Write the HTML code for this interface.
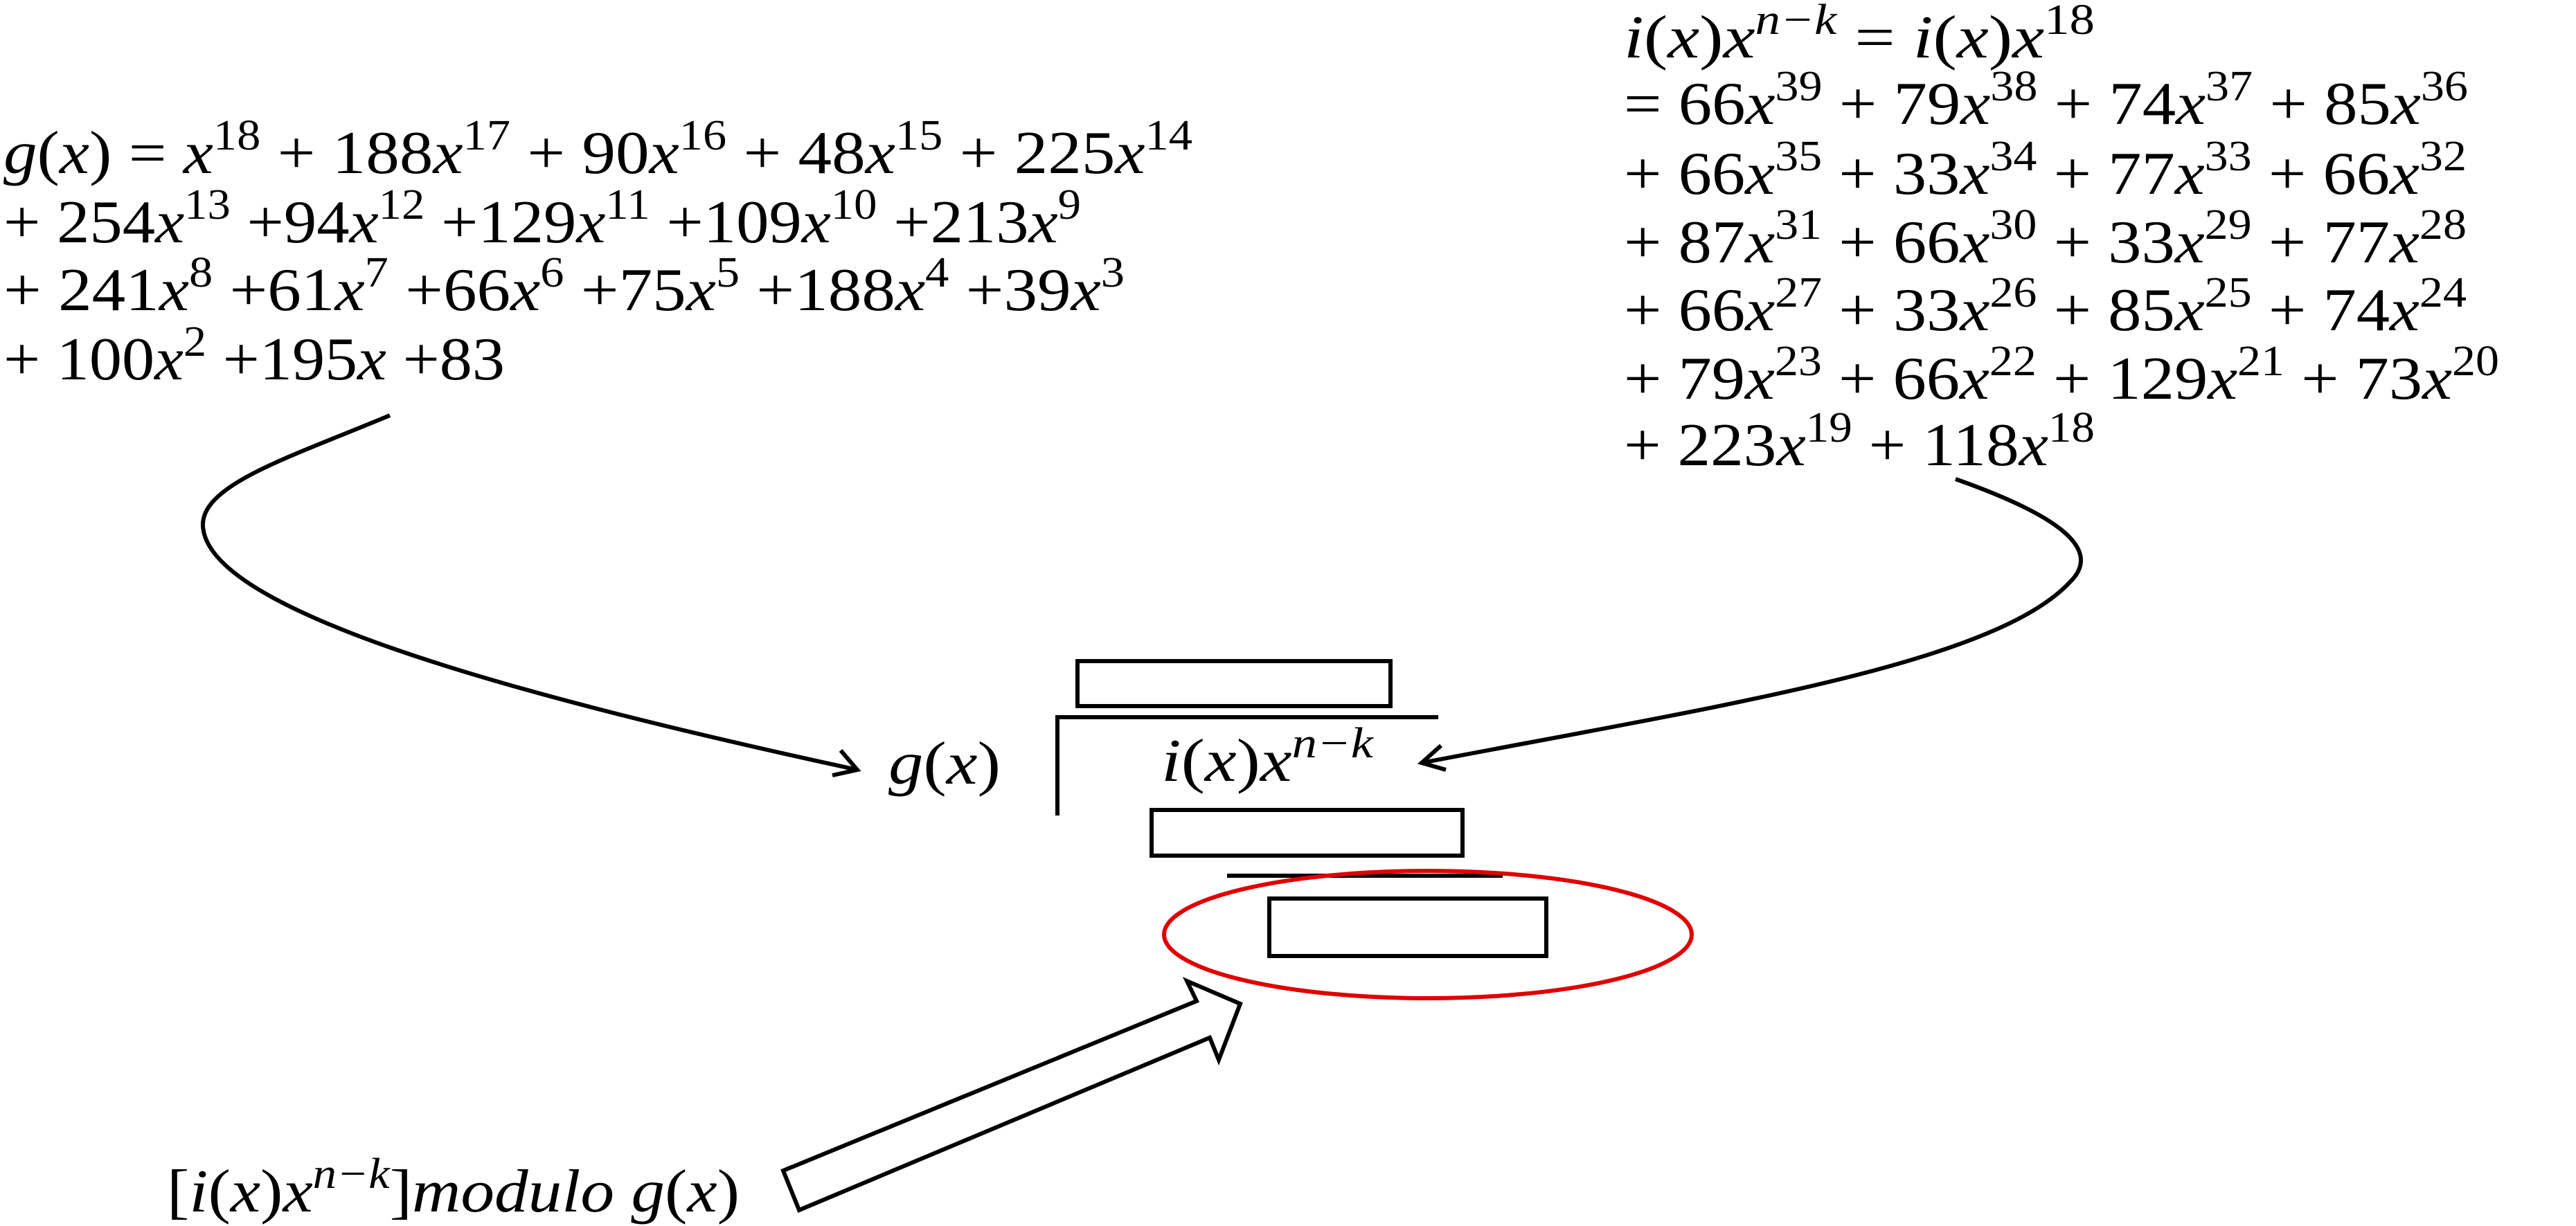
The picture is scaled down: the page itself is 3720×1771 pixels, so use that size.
<!DOCTYPE html>
<html><head><meta charset="utf-8"><style>
html,body{margin:0;padding:0;background:#fff;}
svg{display:block;}
text{font-family:"Liberation Serif","DejaVu Serif",serif;font-size:88px;fill:#000;}
.i{font-style:italic;}
.s{font-size:62px;}
</style></head><body>
<svg width="3720" height="1771" viewBox="0 0 3720 1771" xmlns="http://www.w3.org/2000/svg">
<text x="5" y="250" textLength="1717" lengthAdjust="spacingAndGlyphs"><tspan class="i">g</tspan>(<tspan class="i">x</tspan>) = <tspan class="i">x</tspan><tspan class="s" dy="-34">18</tspan><tspan dy="34"> + 188</tspan><tspan class="i">x</tspan><tspan class="s" dy="-34">17</tspan><tspan dy="34"> + 90</tspan><tspan class="i">x</tspan><tspan class="s" dy="-34">16</tspan><tspan dy="34"> + 48</tspan><tspan class="i">x</tspan><tspan class="s" dy="-34">15</tspan><tspan dy="34"> + 225</tspan><tspan class="i">x</tspan><tspan class="s" dy="-34">14</tspan></text>
<text x="5" y="350" textLength="1556" lengthAdjust="spacingAndGlyphs">+ 254<tspan class="i">x</tspan><tspan class="s" dy="-34">13</tspan><tspan dy="34"> +94</tspan><tspan class="i">x</tspan><tspan class="s" dy="-34">12</tspan><tspan dy="34"> +129</tspan><tspan class="i">x</tspan><tspan class="s" dy="-34">11</tspan><tspan dy="34"> +109</tspan><tspan class="i">x</tspan><tspan class="s" dy="-34">10</tspan><tspan dy="34"> +213</tspan><tspan class="i">x</tspan><tspan class="s" dy="-34">9</tspan></text>
<text x="5" y="448" textLength="1619" lengthAdjust="spacingAndGlyphs">+ 241<tspan class="i">x</tspan><tspan class="s" dy="-34">8</tspan><tspan dy="34"> +61</tspan><tspan class="i">x</tspan><tspan class="s" dy="-34">7</tspan><tspan dy="34"> +66</tspan><tspan class="i">x</tspan><tspan class="s" dy="-34">6</tspan><tspan dy="34"> +75</tspan><tspan class="i">x</tspan><tspan class="s" dy="-34">5</tspan><tspan dy="34"> +188</tspan><tspan class="i">x</tspan><tspan class="s" dy="-34">4</tspan><tspan dy="34"> +39</tspan><tspan class="i">x</tspan><tspan class="s" dy="-34">3</tspan></text>
<text x="5" y="548" textLength="724" lengthAdjust="spacingAndGlyphs">+ 100<tspan class="i">x</tspan><tspan class="s" dy="-34">2</tspan><tspan dy="34"> +195</tspan><tspan class="i">x</tspan> +83</text>

<text x="2345" y="83" textLength="680" lengthAdjust="spacingAndGlyphs"><tspan class="i">i</tspan>(<tspan class="i">x</tspan>)<tspan class="i">x</tspan><tspan class="s i" dy="-34">n−k</tspan><tspan dy="34"> = </tspan><tspan class="i">i</tspan>(<tspan class="i">x</tspan>)<tspan class="i">x</tspan><tspan class="s" dy="-34">18</tspan></text>
<text x="2345" y="179" textLength="1219" lengthAdjust="spacingAndGlyphs">= 66<tspan class="i">x</tspan><tspan class="s" dy="-34">39</tspan><tspan dy="34"> + 79</tspan><tspan class="i">x</tspan><tspan class="s" dy="-34">38</tspan><tspan dy="34"> + 74</tspan><tspan class="i">x</tspan><tspan class="s" dy="-34">37</tspan><tspan dy="34"> + 85</tspan><tspan class="i">x</tspan><tspan class="s" dy="-34">36</tspan></text>
<text x="2345" y="280" textLength="1217" lengthAdjust="spacingAndGlyphs">+ 66<tspan class="i">x</tspan><tspan class="s" dy="-34">35</tspan><tspan dy="34"> + 33</tspan><tspan class="i">x</tspan><tspan class="s" dy="-34">34</tspan><tspan dy="34"> + 77</tspan><tspan class="i">x</tspan><tspan class="s" dy="-34">33</tspan><tspan dy="34"> + 66</tspan><tspan class="i">x</tspan><tspan class="s" dy="-34">32</tspan></text>
<text x="2345" y="379" textLength="1217" lengthAdjust="spacingAndGlyphs">+ 87<tspan class="i">x</tspan><tspan class="s" dy="-34">31</tspan><tspan dy="34"> + 66</tspan><tspan class="i">x</tspan><tspan class="s" dy="-34">30</tspan><tspan dy="34"> + 33</tspan><tspan class="i">x</tspan><tspan class="s" dy="-34">29</tspan><tspan dy="34"> + 77</tspan><tspan class="i">x</tspan><tspan class="s" dy="-34">28</tspan></text>
<text x="2345" y="477" textLength="1217" lengthAdjust="spacingAndGlyphs">+ 66<tspan class="i">x</tspan><tspan class="s" dy="-34">27</tspan><tspan dy="34"> + 33</tspan><tspan class="i">x</tspan><tspan class="s" dy="-34">26</tspan><tspan dy="34"> + 85</tspan><tspan class="i">x</tspan><tspan class="s" dy="-34">25</tspan><tspan dy="34"> + 74</tspan><tspan class="i">x</tspan><tspan class="s" dy="-34">24</tspan></text>
<text x="2345" y="576" textLength="1264" lengthAdjust="spacingAndGlyphs">+ 79<tspan class="i">x</tspan><tspan class="s" dy="-34">23</tspan><tspan dy="34"> + 66</tspan><tspan class="i">x</tspan><tspan class="s" dy="-34">22</tspan><tspan dy="34"> + 129</tspan><tspan class="i">x</tspan><tspan class="s" dy="-34">21</tspan><tspan dy="34"> + 73</tspan><tspan class="i">x</tspan><tspan class="s" dy="-34">20</tspan></text>
<text x="2345" y="672" textLength="680" lengthAdjust="spacingAndGlyphs">+ 223<tspan class="i">x</tspan><tspan class="s" dy="-34">19</tspan><tspan dy="34"> + 118</tspan><tspan class="i">x</tspan><tspan class="s" dy="-34">18</tspan></text>

<g fill="none" stroke="#000" stroke-width="6" stroke-linecap="butt">
<path d="M563,600 C420,660 290,700 293,760 C300,880 720,1000 1238,1112"/>
<path d="M1214,1084 L1238,1112 L1202,1120"/>
<path d="M2824,692 C2960,740 3040,790 2990,840 C2880,960 2480,1020 2053,1102"/>
<path d="M2081,1077 L2053,1102 L2088,1112"/>
</g>

<text x="1283" y="1132" textLength="162" lengthAdjust="spacingAndGlyphs"><tspan class="i">g</tspan>(<tspan class="i">x</tspan>)</text>
<text x="1677" y="1128" textLength="306" lengthAdjust="spacingAndGlyphs"><tspan class="i">i</tspan>(<tspan class="i">x</tspan>)<tspan class="i">x</tspan><tspan class="s i" dy="-34">n−k</tspan></text>
<g fill="none" stroke="#000" stroke-width="6">
<rect x="1556" y="955" width="452" height="65"/>
<path d="M2077,1036 H1527 V1178"/>
<rect x="1663" y="1170" width="449" height="66"/>
<path d="M1772,1265 H2170"/>
<rect x="1833" y="1298" width="400" height="83"/>
</g>
<ellipse cx="2062" cy="1350" rx="381" ry="92" fill="none" stroke="#e00000" stroke-width="6"/>

<polygon points="1131,1691 1728,1446 1714,1417 1791,1450 1760,1531 1747,1499 1154,1748" fill="#fff" stroke="#000" stroke-width="6" stroke-linejoin="miter"/>

<text x="241" y="1750" textLength="827" lengthAdjust="spacingAndGlyphs">[<tspan class="i">i</tspan>(<tspan class="i">x</tspan>)<tspan class="i">x</tspan><tspan class="s i" dy="-34">n−k</tspan><tspan dy="34">]</tspan><tspan class="i">modulo g</tspan>(<tspan class="i">x</tspan>)</text>
</svg>
</body></html>
